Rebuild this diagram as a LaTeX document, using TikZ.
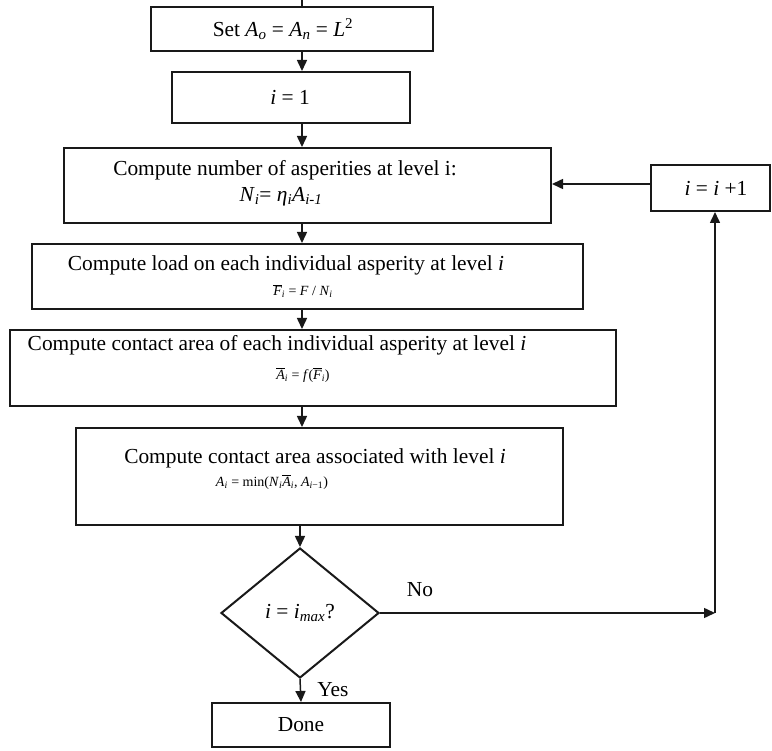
\documentclass[tikz,border=0pt]{standalone}
\usepackage{fontspec}
\setmainfont{Liberation Serif}
\usetikzlibrary{arrows.meta,shapes.geometric}
\newcommand{\ov}[1]{$\overline{\hbox{\itshape #1}}$}
\tikzset{
  boxnode/.style={draw=black!90, line width=2pt, rectangle, inner sep=0pt},
  txt/.style={inner sep=0pt, font=\fontsize{21.4}{25}\selectfont},
  smalltxt/.style={inner sep=0pt, font=\fontsize{14}{17}\selectfont},
  conn/.style={draw=black!90, line width=1.5pt},
  arr/.style={conn, -{Triangle[length=11pt,width=10pt]}},
}
\begin{document}
\begin{tikzpicture}[x=1pt,y=-1pt]
\useasboundingbox (0,0) rectangle (772,751);
% boxes
\node[boxnode, minimum width=282pt, minimum height=44pt] (b1) at (292,29) {};
\node[boxnode, minimum width=238pt, minimum height=51pt] (b2) at (291,97.5) {};
\node[boxnode, minimum width=487pt, minimum height=75pt] (b3) at (307.5,185.5) {};
\node[boxnode, minimum width=119pt, minimum height=46pt] (inc) at (710.5,188) {};
\node[boxnode, minimum width=551pt, minimum height=65pt] (b4) at (307.5,276.5) {};
\node[boxnode, minimum width=606pt, minimum height=76pt] (b5) at (313,368) {};
\node[boxnode, minimum width=487pt, minimum height=97pt] (b6) at (319.5,476.5) {};
\node[boxnode, shape=diamond, minimum width=158pt, minimum height=130pt] (dia) at (300,613) {};
\node[boxnode, minimum width=178pt, minimum height=44pt] (done) at (301,725) {};
% texts
\node[txt] (t1) at (283,29) {Set \textit{A}\textsubscript{\textit{o}} = \textit{A}\textsubscript{\textit{n}} = \textit{L}\textsuperscript{2}};
\node[txt] (t2) at (290,97) {\textit{i} = 1};
\node[txt] (t3a) at (285,170) {Compute number of asperities at level i:};
\node[txt] (t3b) at (281,197) {\textit{N}\textsubscript{\textit{i}}= \textit{η}\textsubscript{\textit{i}}\textit{A}\textsubscript{\textit{i-1}}};
\node[txt] (tinc) at (716,188) {\textit{i} = \textit{i} +1};
\node[txt] (t4a) at (286,265) {Compute load on each individual asperity at level \textit{i}};
\node[smalltxt] (t4b) at (303,291) {\ov{F}\textsubscript{\textit{i}} = \textit{F} / \textit{N}\textsubscript{\textit{i}}};
\node[txt] (t5a) at (277,345) {Compute contact area of each individual asperity at level \textit{i}};
\node[smalltxt] (t5b) at (303,375) {\ov{A}\textsubscript{\textit{i}} = \textit{f}(\ov{F}\textsubscript{\textit{i}})};
\node[txt] (t6a) at (315,458) {Compute contact area associated with level \textit{i}};
\node[smalltxt] (t6b) at (272,482) {\textit{A}\textsubscript{\textit{i}} = min(\textit{N}\textsubscript{\textit{i}}\ov{A}\textsubscript{\textit{i}}, \textit{A}\textsubscript{\textit{i}−1})};
\node[txt] (tdia) at (dia.center) {\textit{i} = \textit{i}\textsubscript{\textit{max}}?};
\node[txt] (tdone) at (done.center) {Done};
\node[txt] (tno) at (420,590) {No};
\node[txt] (tyes) at (333,690) {Yes};
% connectors
\coordinate (col) at (302,0);
\coordinate (corner) at (715,613);
\draw[conn] (col) -- (b1.north -| col);
\draw[arr] (b1.south -| col) -- (b2.north -| col);
\draw[arr] (b2.south -| col) -- (b3.north -| col);
\draw[arr] (b3.south -| col) -- (b4.north -| col);
\draw[arr] (b4.south -| col) -- (b5.north -| col);
\draw[arr] (b5.south -| col) -- (b6.north -| col);
\draw[arr] (b6.south -| dia.north) -- (dia.north);
\draw[arr] (dia.south) -- (done.north);
\draw[arr] (dia.east) -- (corner);
\draw[arr] (corner) -- (corner |- inc.south);
\draw[arr] ([yshift=4pt]inc.west) -- ([yshift=4pt]inc.west -| b3.east);
\end{tikzpicture}
\end{document}
